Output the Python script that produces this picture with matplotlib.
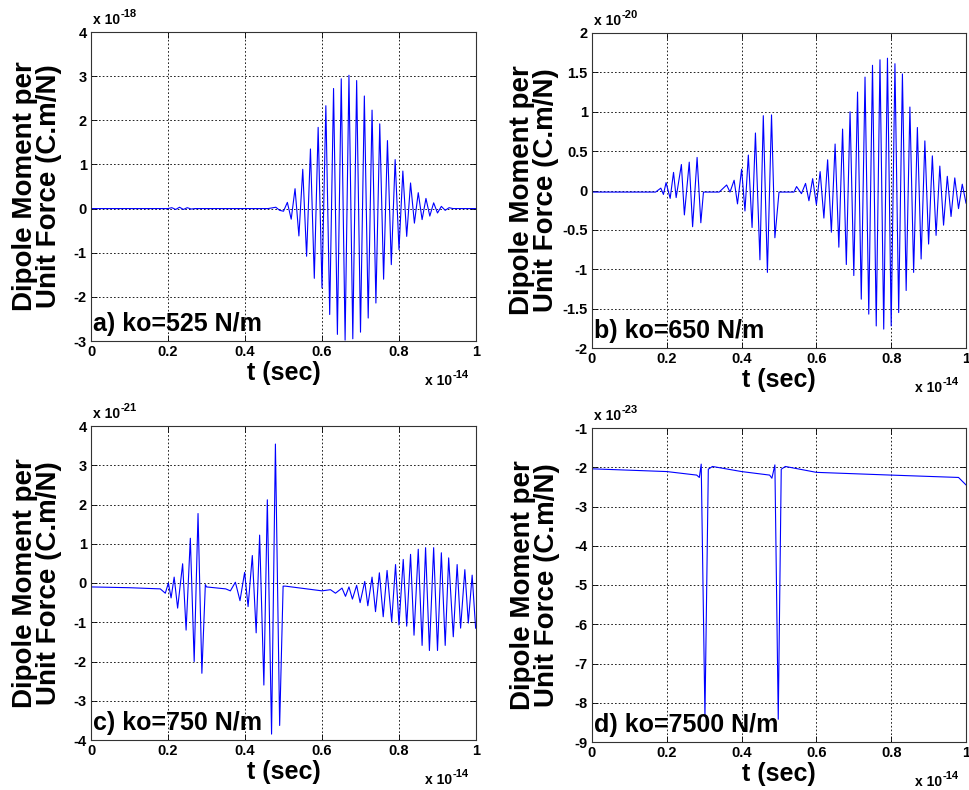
import matplotlib
matplotlib.use("Agg")
import matplotlib.pyplot as plt
import matplotlib.transforms as mtransforms
import numpy as np

plt.rcParams['font.family'] = ['Liberation Sans', 'DejaVu Sans']
plt.rcParams['font.weight'] = 'bold'

# ---------------- data (t in units of 1e-14 s, values in units of the exponent) ----------------
a_t = [0.00, 0.20, 0.21, 0.22, 0.23, 0.24, 0.25, 0.26, 0.27, 0.46, 0.48, 0.49,
       0.50, 0.51, 0.52, 0.53, 0.54, 0.55, 0.56, 0.57, 0.58, 0.59, 0.60, 0.61, 0.62,
       0.63, 0.64, 0.65, 0.66, 0.67, 0.68, 0.69, 0.70, 0.71, 0.72, 0.73, 0.74, 0.75,
       0.76, 0.77, 0.78, 0.79, 0.80, 0.81, 0.82, 0.83, 0.84, 0.85, 0.86, 0.87, 0.88,
       0.89, 0.90, 0.91, 0.92, 0.93, 0.94, 0.96, 1.00]
a_v = [0.0, 0.0, 0.02, -0.02, 0.03, -0.02, 0.02, -0.01, 0.0, 0.0, 0.03, -0.04,
       -0.06, 0.14, -0.24, 0.45, -0.62, 0.89, -1.08, 1.35, -1.58, 1.84, -1.80, 2.33, -2.40,
       2.72, -2.85, 2.94, -2.98, 3.02, -2.95, 2.90, -2.80, 2.55, -2.48, 2.23, -2.14, 1.92,
       -1.60, 1.54, -1.27, 1.11, -0.93, 0.85, -0.63, 0.58, -0.33, 0.36, -0.25, 0.23, -0.17,
       0.13, -0.10, 0.05, -0.04, 0.02, 0.0, 0.0, 0.0]

b_t = [0.00, 0.17, 0.184, 0.191, 0.198, 0.209, 0.218, 0.225, 0.239, 0.247, 0.260,
       0.269, 0.281, 0.291, 0.298, 0.34, 0.360, 0.369, 0.380, 0.389, 0.400, 0.409,
       0.418, 0.428, 0.437, 0.449, 0.458, 0.469, 0.480, 0.489, 0.50, 0.54, 0.547,
       0.560, 0.571, 0.580,
       0.59, 0.60, 0.61, 0.62, 0.63, 0.64, 0.65, 0.66, 0.67, 0.68, 0.69, 0.70, 0.71,
       0.72, 0.73, 0.74, 0.75, 0.76, 0.77, 0.78, 0.79, 0.80, 0.81, 0.82, 0.83, 0.84,
       0.85, 0.86, 0.87, 0.88, 0.89, 0.90, 0.91, 0.92, 0.93, 0.94, 0.95, 0.96, 0.97,
       0.98, 0.99, 1.00]
b_v = [-0.02, -0.02, 0.03, -0.05, 0.10, -0.10, 0.23, -0.09, 0.33, -0.31, 0.36,
       -0.46, 0.42, -0.41, -0.02, -0.02, 0.07, -0.02, 0.13, -0.17, 0.27, -0.26,
       0.45, -0.47, 0.73, -0.88, 0.95, -1.04, 0.96, -0.60, -0.02, -0.02, 0.05,
       -0.04, 0.09, -0.13,
       0.15, -0.18, 0.24, -0.35, 0.39, -0.53, 0.59, -0.72, 0.78, -0.94, 1.00, -1.08, 1.25,
       -1.38, 1.44, -1.57, 1.59, -1.72, 1.66, -1.76, 1.68, -1.72, 1.61, -1.55, 1.48, -1.27,
       1.06, -1.04, 0.80, -0.87, 0.63, -0.68, 0.44, -0.57, 0.31, -0.44, 0.18, -0.33, 0.16,
       -0.23, 0.08, -0.16]

c_t = [0.00, 0.10, 0.18, 0.193, 0.201, 0.208, 0.216, 0.225, 0.238, 0.247, 0.258,
       0.268, 0.278, 0.288, 0.297, 0.30, 0.35, 0.362, 0.375, 0.387, 0.399, 0.408,
       0.419, 0.429, 0.438, 0.449, 0.458, 0.469, 0.479, 0.490, 0.499, 0.505, 0.60,
       0.622, 0.635, 0.652, 0.661, 0.670, 0.679, 0.690, 0.699, 0.711, 0.719, 0.730,
       0.739, 0.749, 0.759, 0.769, 0.781, 0.791, 0.800, 0.811, 0.820, 0.830, 0.839,
       0.850, 0.860, 0.869, 0.879, 0.890, 0.900, 0.910, 0.920, 0.929, 0.941, 0.951,
       0.960, 0.971, 0.980, 0.990, 0.999]
c_v = [-0.10, -0.12, -0.15, -0.26, 0.0, -0.38, 0.15, -0.64, 0.49, -1.20, 1.14,
       -2.00, 1.77, -2.30, -0.04, -0.10, -0.15, -0.20, 0.02, -0.45, 0.27, -0.60,
       0.70, -1.27, 1.22, -2.60, 2.12, -3.85, 3.54, -3.63, -0.08, -0.08, -0.20,
       -0.17, -0.26, -0.13, -0.34, -0.10, -0.41, -0.06, -0.50, 0.04, -0.58, 0.15,
       -0.73, 0.26, -0.86, 0.32, -0.99, 0.47, -1.07, 0.60, -1.10, 0.73, -1.33,
       0.86, -1.59, 0.90, -1.72, 0.90, -1.72, 0.77, -1.59, 0.64, -1.37, 0.47,
       -1.15, 0.34, -1.02, 0.20, -1.15]

d_t = [0.00, 0.20, 0.28, 0.287, 0.292, 0.302, 0.311, 0.322, 0.40, 0.475, 0.481,
       0.489, 0.498, 0.506, 0.517, 0.60, 0.80, 0.98, 1.00]
d_v = [-2.04, -2.11, -2.20, -2.26, -1.92, -8.35, -2.05, -1.98, -2.11, -2.20, -2.28,
       -1.94, -8.42, -2.05, -1.98, -2.13, -2.20, -2.26, -2.45]

x_ticks = [0, 0.2, 0.4, 0.6, 0.8, 1]
x_ticklabels = ['0', '0.2', '0.4', '0.6', '0.8', '1']

panels = [
    dict(t=a_t, v=a_v, ylim=(-3, 4), yticks=[-3, -2, -1, 0, 1, 2, 3, 4],
         yticklabels=['-3', '-2', '-1', '0', '1', '2', '3', '4'],
         yexp='-18', label='a) ko=525 N/m', ylab_x=-0.075,
         pos=[91, 32, 476, 341]),
    dict(t=b_t, v=b_v, ylim=(-2, 2), yticks=[-2, -1.5, -1, -0.5, 0, 0.5, 1, 1.5, 2],
         yticklabels=['-2', '-1.5', '-1', '-0.5', '0', '0.5', '1', '1.5', '2'],
         yexp='-20', label='b) ko=650 N/m', ylab_x=-0.088,
         pos=[592, 33, 966, 348]),
    dict(t=c_t, v=c_v, ylim=(-4, 4), yticks=[-4, -3, -2, -1, 0, 1, 2, 3, 4],
         yticklabels=['-4', '-3', '-2', '-1', '0', '1', '2', '3', '4'],
         yexp='-21', label='c) ko=750 N/m', ylab_x=-0.075,
         pos=[91, 426, 476, 740]),
    dict(t=d_t, v=d_v, ylim=(-9, -1), yticks=[-9, -8, -7, -6, -5, -4, -3, -2, -1],
         yticklabels=['-9', '-8', '-7', '-6', '-5', '-4', '-3', '-2', '-1'],
         yexp='-23', label='d) ko=7500 N/m', ylab_x=-0.085,
         pos=[592, 428, 966, 742]),
]
x_exp = '-14'

W, H = 969, 790
fig = plt.figure(figsize=(W / 100, H / 100), dpi=100)

for p in panels:
    l, tp, r, b = p['pos']
    ax = fig.add_axes([l / W, 1 - b / H, (r - l) / W, (b - tp) / H])
    ax.plot(p['t'], p['v'], color='#0000ff', lw=0.8)
    ax.set_xlim(0, 1)
    ax.set_ylim(*p['ylim'])
    ax.set_xticks(x_ticks)
    ax.set_xticklabels(x_ticklabels)
    ax.set_yticks(p['yticks'])
    ax.set_yticklabels(p['yticklabels'])
    ax.grid(True, color='black', linestyle=(0, (2, 2.5)), linewidth=0.6)
    ax.tick_params(direction='in', length=4, width=0.6, top=True, right=True,
                   labelsize=10.5, pad=3)
    for lab in ax.get_xticklabels() + ax.get_yticklabels():
        lab.set_fontweight('bold')
    for s in ax.spines.values():
        s.set_linewidth(0.8)
        s.set_color('#333333')
    ax.set_xlabel('t (sec)', fontsize=18, fontweight='bold', labelpad=2)
    ax.set_ylabel('Dipole Moment per\nUnit Force (C.m/N)', fontsize=20,
                  fontweight='bold', linespacing=0.92)
    ax.yaxis.set_label_coords(p['ylab_x'], 0.5)
    ax.xaxis.set_label_coords(0.5, -0.065)
    ax.text(0.005, 0.015, p['label'], transform=ax.transAxes, fontsize=18,
            fontweight='bold', ha='left', va='bottom')
    # y exponent label (top-left)
    tr1 = mtransforms.offset_copy(ax.transAxes, fig=fig, x=2, y=8, units='dots')
    ax.text(0, 1, 'x 10', transform=tr1, fontsize=10, fontweight='bold',
            ha='left', va='baseline')
    tr2 = mtransforms.offset_copy(ax.transAxes, fig=fig, x=30, y=15, units='dots')
    ax.text(0, 1, p['yexp'], transform=tr2, fontsize=8, fontweight='bold',
            ha='left', va='baseline')
    # x exponent label (bottom-right)
    tr3 = mtransforms.offset_copy(ax.transAxes, fig=fig, x=-51, y=-44, units='dots')
    ax.text(1, 0, 'x 10', transform=tr3, fontsize=10, fontweight='bold',
            ha='left', va='baseline')
    tr4 = mtransforms.offset_copy(ax.transAxes, fig=fig, x=-23, y=-37, units='dots')
    ax.text(1, 0, x_exp, transform=tr4, fontsize=8, fontweight='bold',
            ha='left', va='baseline')

fig.savefig('out.png', dpi=100)
